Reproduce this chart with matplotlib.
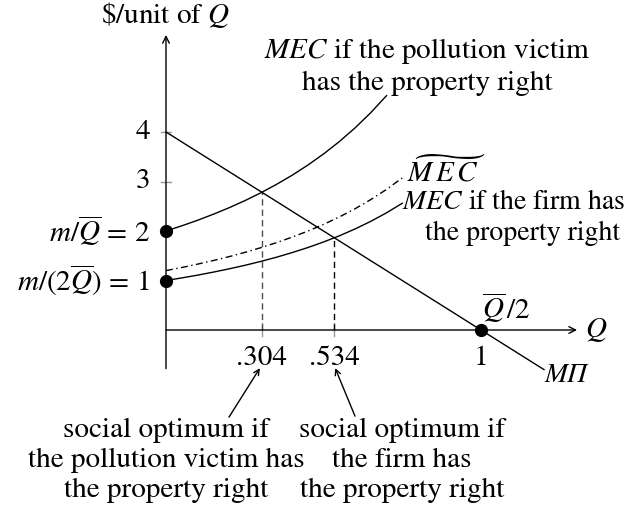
import matplotlib
matplotlib.use('Agg')
import matplotlib.pyplot as plt

plt.rcParams['font.family'] = 'STIXGeneral'
plt.rcParams['mathtext.fontset'] = 'stix'

# quantity grid for the marginal external cost curves
Q_GRID = [0.00, 0.05, 0.10, 0.15, 0.20, 0.25, 0.30, 0.35,
          0.40, 0.45, 0.50, 0.55, 0.60, 0.65, 0.70, 0.75]

# MEC when the firm holds the property right
MEC_FIRM = [1.000, 1.052, 1.108, 1.169, 1.235, 1.306, 1.384, 1.469,
            1.563, 1.665, 1.778, 1.902, 2.041, 2.195, 2.367, 2.560]

# MEC when the pollution victim holds the property right (stops at Q=.70)
MEC_VICTIM = [2.000, 2.104, 2.216, 2.338, 2.469, 2.612, 2.768, 2.939,
              3.125, 3.330, 3.556, 3.805, 4.082, 4.390, 4.734]

# the dash-dotted MEC-tilde curve
MEC_TILDE = [1.200, 1.262, 1.330, 1.403, 1.481, 1.567, 1.661, 1.763,
             1.875, 1.998, 2.133, 2.283, 2.449, 2.634, 2.840, 3.072]

# marginal profit line
MP_Q = [0.0, 1.2]
MP_VAL = [4.0, -0.8]

Y_TICKS = [3, 4]
Q_OPT = [0.304, 0.534]
Q_OPT_LABELS = ['.304', '.534']
DOTS_Q = [0, 0, 1]
DOTS_VAL = [2, 1, 0]

FS = 21
LS = 1.24


def mp_at(q):
    # height of the marginal profit line at q
    (q0, q1), (v0, v1) = MP_Q, MP_VAL
    return v0 + (v1 - v0) * (q - q0) / (q1 - q0)


fig = plt.figure(figsize=(6.31, 5.11), dpi=100)
ax = fig.add_axes([0, 0, 1, 1])
ax.set_xlim(-166 / 315, 465 / 315)
ax.set_ylim(-181 / 49.5, 330 / 49.5)
ax.axis('off')

lw = 1.0
arrow_kw = dict(arrowstyle='->', lw=lw, color='black',
                shrinkA=0, shrinkB=0, mutation_scale=12)

# axes with arrows
ax.annotate('', xy=(0, 5.96), xytext=(0, -0.78), arrowprops=arrow_kw)
ax.annotate('', xy=(1.305, 0), xytext=(0, 0), arrowprops=arrow_kw)

# small gray ticks
for v in Y_TICKS:
    ax.plot([-0.016, 0.016], [v, v], color='0.6', lw=lw)
    ax.text(-0.05, v, str(v), ha='right', va='center', fontsize=FS)
for q in Q_OPT:
    ax.plot([q, q], [-0.12, 0.14], color='0.6', lw=lw)

# dashed drop lines from the optima
ax.plot([Q_OPT[0], Q_OPT[0]], [0, mp_at(Q_OPT[0])], color='0.3', lw=lw,
        dashes=(4.5, 3))
ax.plot([Q_OPT[1], Q_OPT[1]], [0, mp_at(Q_OPT[1])], color='black', lw=lw,
        dashes=(4.5, 3))

# curves
ax.plot(MP_Q, MP_VAL, color='black', lw=lw)
ax.plot(Q_GRID[:len(MEC_VICTIM)], MEC_VICTIM, color='black', lw=lw)
ax.plot(Q_GRID, MEC_FIRM, color='black', lw=lw)
ax.plot(Q_GRID, MEC_TILDE, color='black', lw=lw, dashes=(5, 2.5, 1, 2.5))

ax.plot(DOTS_Q, DOTS_VAL, 'o', color='black', ms=8.5, zorder=5)

# axis labels
ax.text(0, 6.36, r'\$/unit of $Q$', ha='center', va='center', fontsize=FS)
ax.text(1.33, 0, r'$Q$', ha='left', va='center', fontsize=FS)
ax.text(1.003, 0.45, r'$\overline{Q}\,/2$', ha='left', va='center', fontsize=FS)
ax.text(-0.05, 2, r'$m/\overline{Q}\,=\,2$', ha='right', va='center',
        fontsize=FS)
ax.text(-0.05, 1, r'$m/(2\overline{Q})\,=\,1$', ha='right', va='center',
        fontsize=FS)

for q, lab in zip(Q_OPT, Q_OPT_LABELS):
    ax.text(q, -0.57, lab, ha='center', va='center', fontsize=FS)
ax.text(1, -0.57, '1', ha='center', va='center', fontsize=FS)
ax.text(1.203, -0.93, 'MΠ', ha='left', va='center', fontsize=FS - 1,
        style='italic')

# curve labels
ax.text(0.829, 5.33, '$MEC$ if the pollution victim\nhas the property right',
        ha='center', va='center', fontsize=FS, linespacing=1.22)
ax.text(0.765, 3.2, r'$\widetilde{M\,E\,C}$', ha='left', va='center',
        fontsize=FS)
ax.text(0.749, 2.586, '$MEC$ if the firm has', ha='left', va='center',
        fontsize=FS - 1)
ax.text(0.822, 1.96, 'the property right', ha='left', va='center',
        fontsize=FS - 1)

# notes on the two social optima
ax.text(0, -2.63, 'social optimum if\nthe pollution victim has\nthe property right',
        ha='center', va='center', fontsize=FS, linespacing=LS)
ax.text(0.749, -2.63, 'social optimum if\nthe firm has\nthe property right',
        ha='center', va='center', fontsize=FS, linespacing=LS)
note_kw = dict(arrow_kw, mutation_scale=10)
ax.annotate('', xy=(0.298, -0.77), xytext=(0.2, -1.76), arrowprops=note_kw)
ax.annotate('', xy=(0.537, -0.77), xytext=(0.6, -1.74), arrowprops=note_kw)

fig.savefig('out.png', dpi=100)
